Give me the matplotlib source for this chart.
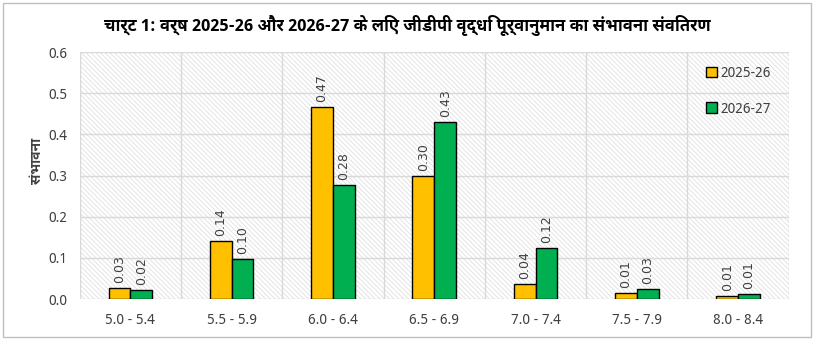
import matplotlib
matplotlib.use("Agg")
import matplotlib.pyplot as plt
import numpy as np
from matplotlib.patches import Rectangle

# डेटा
categories = ["5.0 - 5.4", "5.5 - 5.9", "6.0 - 6.4", "6.5 - 6.9", "7.0 - 7.4", "7.5 - 7.9", "8.0 - 8.4"]
fy26 = [0.028, 0.142, 0.466, 0.298, 0.037, 0.015, 0.008]
fy27 = [0.022, 0.098, 0.277, 0.429, 0.124, 0.025, 0.012]
series_names = ["2025-26", "2026-27"]
yticks = [0.0, 0.1, 0.2, 0.3, 0.4, 0.5, 0.6]

title = "चार्ट 1: वर्ष 2025-26 और 2026-27 के लिए जीडीपी वृद्धि पूर्वानुमान का संभावना संवितरण"
ylabel = "संभावना"

fonts = ["Noto Sans Devanagari", "Noto Sans Devanagari UI", "DejaVu Sans"]
bold_fonts = ["Noto Sans Devanagari UI", "Noto Sans Devanagari", "DejaVu Sans"]
plt.rcParams["font.family"] = fonts
plt.rcParams["hatch.linewidth"] = 0.6

fig = plt.figure(figsize=(8.14, 3.41), dpi=100)
ax = fig.add_axes([0.098, 0.123, 0.871, 0.7245])

# पृष्ठभूमि की धारियाँ
ax.add_patch(Rectangle((0, 0), 1, 1, transform=ax.transAxes, facecolor="white",
                       edgecolor="#e0e0e0", hatch="\\" * 7, linewidth=0, zorder=0))

x = np.arange(len(categories))
w = 0.215
b1 = ax.bar(x - w / 2, fy26, w, color="#FFC000", edgecolor="black", linewidth=1, label=series_names[0], zorder=3)
b2 = ax.bar(x + w / 2, fy27, w, color="#00B050", edgecolor="black", linewidth=1, label=series_names[1], zorder=3)

for bars, vals in [(b1, fy26), (b2, fy27)]:
    for r, v in zip(bars, vals):
        ax.text(r.get_x() + r.get_width() / 2, v + 0.012, f"{v:.2f}", rotation=90,
                ha="center", va="bottom", fontsize=9, color="#404040", family="DejaVu Sans", zorder=4)

ax.set_xlim(-0.5, len(categories) - 0.5)
ax.set_ylim(0, 0.6)
ax.set_yticks(yticks)
ax.set_yticklabels([f"{t:.1f}" for t in yticks])
ax.set_xticks(x)
ax.set_xticklabels(categories)
ax.tick_params(length=0, labelsize=10, colors="#404040", pad=10)
ax.tick_params(axis="y", pad=9)

for yy in yticks[1:]:
    ax.axhline(yy, color="#d9d9d9", linewidth=1, zorder=1)
for k in range(1, len(categories)):
    ax.axvline(k - 0.5, color="#d9d9d9", linewidth=1, zorder=1)
for s in ax.spines.values():
    s.set_visible(False)
ax.axhline(0, color="#d9d9d9", linewidth=1, zorder=2)
ax.axvline(-0.5, color="#d9d9d9", linewidth=1, zorder=1)
ax.axvline(len(categories) - 0.5, color="#d9d9d9", linewidth=1, zorder=1)

fig.text(0.0455, 0.528, ylabel, rotation=90, ha="center", va="center", fontsize=10,
         fontweight="bold", family=bold_fonts, color="#404040")
fig.text(0.5, 0.925, title, ha="center", va="center", fontsize=12, fontweight="bold",
         family=bold_fonts, color="black")

leg = ax.legend(loc="upper left", bbox_to_anchor=(0.865, 0.995), frameon=False, fontsize=10,
                handlelength=0.8, handleheight=0.8, handletextpad=0.3, labelspacing=1.5)
for t in leg.get_texts():
    t.set_color("#404040")

fig.patches.append(Rectangle((0.004, 0.012), 0.992, 0.978, transform=fig.transFigure,
                             fill=False, edgecolor="#bfbfbf", linewidth=1))

fig.savefig("out.png", dpi=100)
